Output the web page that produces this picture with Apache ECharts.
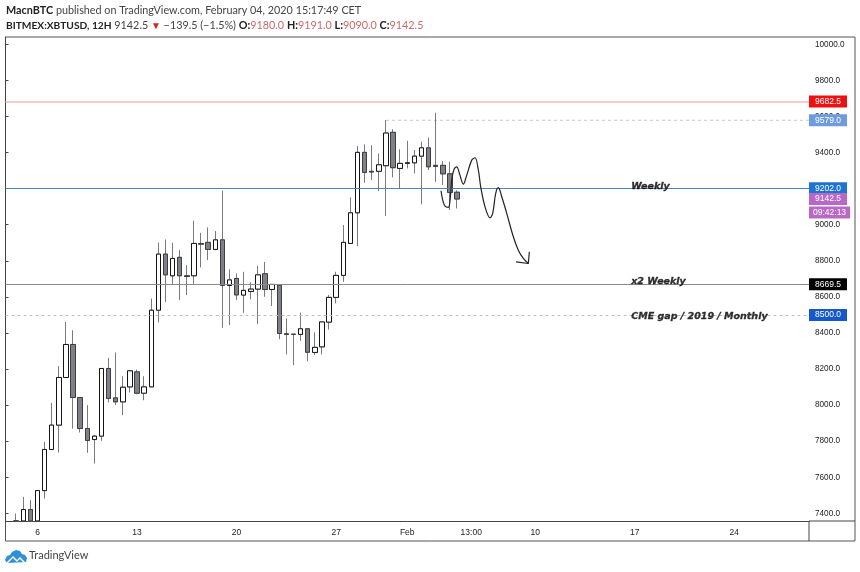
<!DOCTYPE html>
<html lang="en">

<head>
    <meta charset="UTF-8">
    <title>BITMEX:XBTUSD, 12H</title>
    <script src="https://cdn.jsdelivr.net/npm/echarts@6/dist/echarts.min.js"></script>
    <style>
        html, body { margin: 0; padding: 0; background: #fff; }
        #chart { width: 860px; height: 572px; }
    </style>
</head>

<body>
    <div id="chart"></div>

    <script>
    // 12H candles, first slot is Jan 4 00:00. Bodies before Jan 6 run off the axis, so they stop at 7358 here.
    const slotCount = 113;
    const opens = [null, 7358, 7358, 7421, 7358, 7526, 7754, 7889, 8153, 8336, 8042, 7870, 7809, 7828, 8203, 8040, 8018, 8101, 8184, 8066, 8101,
        8526, 8837, 8717, 8819, 8717, 8717, 8896, 8902, 8863, 8916, 8663, 8702, 8610, 8630, 8643, 8728, 8641, 8665, 8395, 8393, 8392,
        8423, 8292, 8323, 8460, 8597, 8719, 8896, 9066, 9401, 9296, 9296, 9327, 9512, 9312, 9340, 9343, 9380, 9426, 9329, 9329, 9282, 9180];
    const closes = [null, 7358, 7421, 7358, 7526, 7754, 7889, 8153, 8336, 8042, 7870, 7804, 7828, 8203, 8037, 8018, 8099, 8190, 8066, 8101, 8526,
        8837, 8722, 8813, 8717, 8713, 8896, 8892, 8863, 8916, 8663, 8694, 8611, 8636, 8643, 8722, 8641, 8669, 8397, 8392, 8392, 8423,
        8293, 8320, 8461, 8597, 8719, 8902, 9066, 9401, 9290, 9292, 9332, 9508, 9316, 9340, 9343, 9380, 9426, 9321, 9323, 9282, 9179, 9142.5];
    const lows = [null, 7358, 7358, 7358, 7358, 7482, 7754, 7737, 8153, 7870, 7848, 7735, 7676, 7802, 8015, 8000, 7944, 8070, 8060, 8027, 8101,
        8458, 8572, 8670, 8582, 8610, 8665, 8763, 8804, 8859, 8428, 8443, 8582, 8511, 8586, 8449, 8600, 8549, 8365, 8281, 8221, 8356,
        8243, 8277, 8281, 8419, 8564, 8683, 8896, 8881, 9232, 9248, 9186, 9048, 9262, 9201, 9312, 9285, 9113, 9303, 9238, 9220, 9081, 9090];
    const highs = [null, 7399, 7491, 7473, 7530, 7796, 8012, 8216, 8461, 8415, 8042, 8000, 7833, 8203, 8262, 8292, 8160, 8195, 8197, 8160, 8591,
        8900, 8918, 8900, 8859, 8776, 9022, 8955, 8985, 8965, 9188, 8752, 8730, 8739, 8680, 8772, 8794, 8669, 8665, 8480, 8393, 8513,
        8423, 8403, 8461, 8610, 8739, 8998, 9151, 9436, 9445, 9441, 9395, 9580, 9530, 9418, 9465, 9414, 9460, 9484, 9621, 9353, 9349, 9191];

    const tickSlots = [4, 18, 32, 46, 56, 65, 74, 88, 102];
    const tickLabels = ['6', '13', '20', '27', 'Feb', '13:00', '10', '17', '24'];
    const priceTicks = [7400, 7600, 7800, 8000, 8200, 8400, 8600, 8800, 9000, 9200, 9400, 9600, 9800, 10000];

    const levelPrices = [9682.5, 9579, 9202, 9142.5, 9068, 8669.5, 8500];
    const levelTexts = ['9682.5', '9579.0', '9202.0', '9142.5', '09:42:13', '8669.5', '8500.0'];
    const levelBoxes = ['#ee1111', '#6d9be0', '#1e74d0', '#b968c7', '#b968c7', '#000000', '#1558c8'];

    // the 9579 level only starts at the candle that made the high
    const shortLevelSlots = [53.5, 113];
    const shortLevelPrices = [9579, 9579];

    // the hand drawn path, x in candle slots
    const sketchSlots = [61.25, 61.49, 61.81, 62.28, 62.52, 62.75, 63.08, 63.46, 63.83, 64.39, 64.87, 65.57, 66.03, 66.5, 66.83, 67.44, 68.14, 68.52, 68.94, 69.31, 69.79, 70.49, 71.42, 72.12, 72.83, 73.53];
    const sketchPrices = [9188, 9136, 9103, 9096, 9136, 9247, 9307, 9321, 9285, 9225, 9275, 9358, 9371, 9303, 9210, 9099, 9038, 9063, 9174, 9205, 9155, 9063, 8933, 8859, 8813, 8785];
    const arrowSlots = [71.8, 73.53, 73.67];
    const arrowPrices = [8794, 8785, 8850];

    const noteTexts = ['Weekly', 'x2 Weekly', 'CME gap / 2019 / Monthly'];
    const notePrices = [9214, 8683, 8489];
    const noteSlot = 87.93;

    const categories = [];
    for (let i = 0; i < slotCount; i++) {
        let at = tickSlots.indexOf(i);
        categories.push(at >= 0 ? tickLabels[at] : 'slot' + i);
    }

    let wickData = [];
    let bodyData = [];
    for (let i = 0; i < opens.length; i++) {
        if (opens[i] === null) {
            wickData.push(['-', '-', '-', '-']);
            bodyData.push(['-', '-', '-', '-']);
            continue;
        }
        wickData.push([opens[i], closes[i], lows[i], highs[i]]);
        bodyData.push([opens[i], closes[i], Math.min(opens[i], closes[i]), Math.max(opens[i], closes[i])]);
    }

    function pairs(xs, ys) {
        return xs.map((x, i) => [x, ys[i]]);
    }

    // line look per level, a few levels only show their boxes
    const noLine = { color: 'transparent', width: 0, type: 'solid' };
    const levelLines = [
        { color: '#f3bcbc', width: 1.5, type: 'solid' },
        noLine,
        { color: '#4b88b8', width: 1, type: 'solid' },
        noLine,
        noLine,
        { color: '#8a8a8a', width: 1, type: 'solid' },
        { color: '#bdbdbd', width: 1, type: [3, 3] }
    ];

    const levelData = levelPrices.map((p, i) => ({
        yAxis: p,
        name: levelTexts[i],
        lineStyle: levelLines[i],
        label: {
            show: true,
            position: 'end',
            distance: 0,
            formatter: '{b}',
            color: '#fff',
            fontFamily: 'Liberation Sans',
            fontSize: 8.5,
            lineHeight: 8,
            backgroundColor: levelBoxes[i],
            padding: i === 4 ? [2, 4, 2, 4] : [2, 6, 2, 6]
        }
    }));

    const headFont = 'Lato';
    const titleRich = {
        b: { fontFamily: headFont, fontSize: 10.8, fontWeight: 'bold', color: '#222' },
        s: { fontFamily: headFont, fontSize: 10.2, fontWeight: 'bold', color: '#222' },
        t: { fontFamily: headFont, fontSize: 10.8, fontWeight: 'normal', color: '#444' },
        r: { fontFamily: headFont, fontSize: 10.8, fontWeight: 'normal', color: '#c96a6a' },
        a: { fontFamily: headFont, fontSize: 10, fontWeight: 'normal', color: '#e02020' }
    };

    const option = {
        animation: false,
        backgroundColor: '#fff',
        textStyle: { fontFamily: 'Liberation Sans' },
        title: [
            {
                left: 6, top: 5, padding: 0,
                text: '{b|MacnBTC}{t| published on TradingView.com, February 04, 2020 15:17:49 CET}',
                textStyle: { rich: titleRich }
            },
            {
                left: 6, top: 20, padding: 0,
                text: '{s|BITMEX:XBTUSD, 12H}{t| 9142.5 }{a|▼}{t| −139.5 (−1.5%) }{b|O:}{r|9180.0 }{b|H:}{r|9191.0 }{b|L:}{r|9090.0 }{b|C:}{r|9142.5}',
                textStyle: { rich: titleRich }
            }
        ],
        grid: { left: 5.5, width: 803.5, top: 37, height: 484 },
        xAxis: [
            {
                type: 'category',
                data: categories,
                boundaryGap: true,
                axisLine: { lineStyle: { color: '#444', width: 1 } },
                axisTick: {
                    alignWithLabel: true,
                    length: 3,
                    lineStyle: { color: '#444' },
                    interval: (i) => tickSlots.includes(i)
                },
                axisLabel: {
                    color: '#222',
                    fontSize: 8.5,
                    margin: 7,
                    interval: (i) => tickSlots.includes(i),
                    hideOverlap: false
                },
                splitLine: { show: false }
            },
            { type: 'value', min: 0, max: slotCount, show: false }
        ],
        yAxis: {
            type: 'value',
            position: 'right',
            min: 7357.5,
            max: 10040.5,
            axisLine: { show: true, lineStyle: { color: '#444', width: 1 } },
            axisTick: {
                show: true, length: 3,
                lineStyle: { color: '#444' },
                customValues: priceTicks
            },
            axisLabel: {
                color: '#222',
                fontSize: 8.2,
                margin: 6,
                customValues: priceTicks,
                formatter: (v) => v.toFixed(1)
            },
            splitLine: { show: false }
        },
        series: [
            {
                name: 'wicks',
                type: 'candlestick',
                data: wickData,
                barWidth: 5,
                z: 2,
                itemStyle: {
                    color: 'transparent', color0: 'transparent',
                    borderColor: '#7a7a7a', borderColor0: '#7a7a7a',
                    borderWidth: 1
                },
                markLine: {
                    silent: true,
                    symbol: 'none',
                    animation: false,
                    data: levelData
                }
            },
            {
                name: 'bodies',
                type: 'candlestick',
                data: bodyData,
                barWidth: 5,
                z: 3,
                itemStyle: {
                    color: '#fff', color0: '#808088',
                    borderColor: '#151515', borderColor0: '#3d3d44',
                    borderWidth: 1
                }
            },
            {
                name: 'short level',
                type: 'line',
                xAxisIndex: 1,
                data: pairs(shortLevelSlots, shortLevelPrices),
                showSymbol: false,
                z: 1,
                lineStyle: { color: '#c4c4c4', width: 1, type: [3, 3] }
            },
            {
                name: 'sketch',
                type: 'line',
                xAxisIndex: 1,
                data: pairs(sketchSlots, sketchPrices),
                smooth: 0.35,
                showSymbol: false,
                z: 5,
                lineStyle: { color: '#222', width: 1.2 }
            },
            {
                name: 'arrow',
                type: 'line',
                xAxisIndex: 1,
                data: pairs(arrowSlots, arrowPrices),
                showSymbol: false,
                z: 5,
                lineStyle: { color: '#222', width: 1.2 }
            },
            {
                name: 'notes',
                type: 'scatter',
                xAxisIndex: 1,
                symbolSize: 1,
                itemStyle: { color: 'transparent' },
                z: 6,
                data: noteTexts.map((t, i) => ({ name: t, value: [noteSlot, notePrices[i]] })),
                label: {
                    show: true,
                    position: 'right',
                    distance: 0,
                    formatter: '{b}',
                    color: '#000',
                    fontFamily: 'DejaVu Sans',
                    fontStyle: 'italic',
                    fontWeight: 'bold',
                    fontSize: 9.5,
                    textBorderColor: '#000',
                    textBorderWidth: 0.3
                }
            }
        ],
        graphic: [
            // outer frame and the axis lines running out to it
            { type: 'rect', shape: { x: 5.5, y: 37, width: 849.5, height: 504 }, style: { fill: 'none', stroke: '#555', lineWidth: 1 }, silent: true },
            { type: 'line', shape: { x1: 809, y1: 521, x2: 809, y2: 541 }, style: { stroke: '#444', lineWidth: 1 }, silent: true },
            { type: 'line', shape: { x1: 809, y1: 521, x2: 855, y2: 521 }, style: { stroke: '#444', lineWidth: 1 }, silent: true },
            // TradingView mark
            {
                type: 'polygon',
                shape: { points: [[5, 560], [7, 556], [10, 555], [12, 552], [16, 550], [20, 551], [22, 554], [25, 555], [27, 558], [26, 562], [7, 563]] },
                style: { fill: '#2f8fd8' },
                silent: true
            },
            {
                type: 'polyline',
                shape: { points: [[7, 563], [13, 557], [17, 561], [20, 558], [25, 563]] },
                style: { fill: 'none', stroke: '#fff', lineWidth: 1.5 },
                silent: true
            },
            {
                type: 'text', left: 29, top: 550,
                style: { text: 'TradingView', fill: '#444', fontFamily: 'Lato', fontSize: 11 },
                silent: true
            }
        ]
    };

    var chart = echarts.init(document.getElementById('chart'), null, { renderer: 'canvas' });
    chart.setOption(option);
    </script>
</body>

</html>
